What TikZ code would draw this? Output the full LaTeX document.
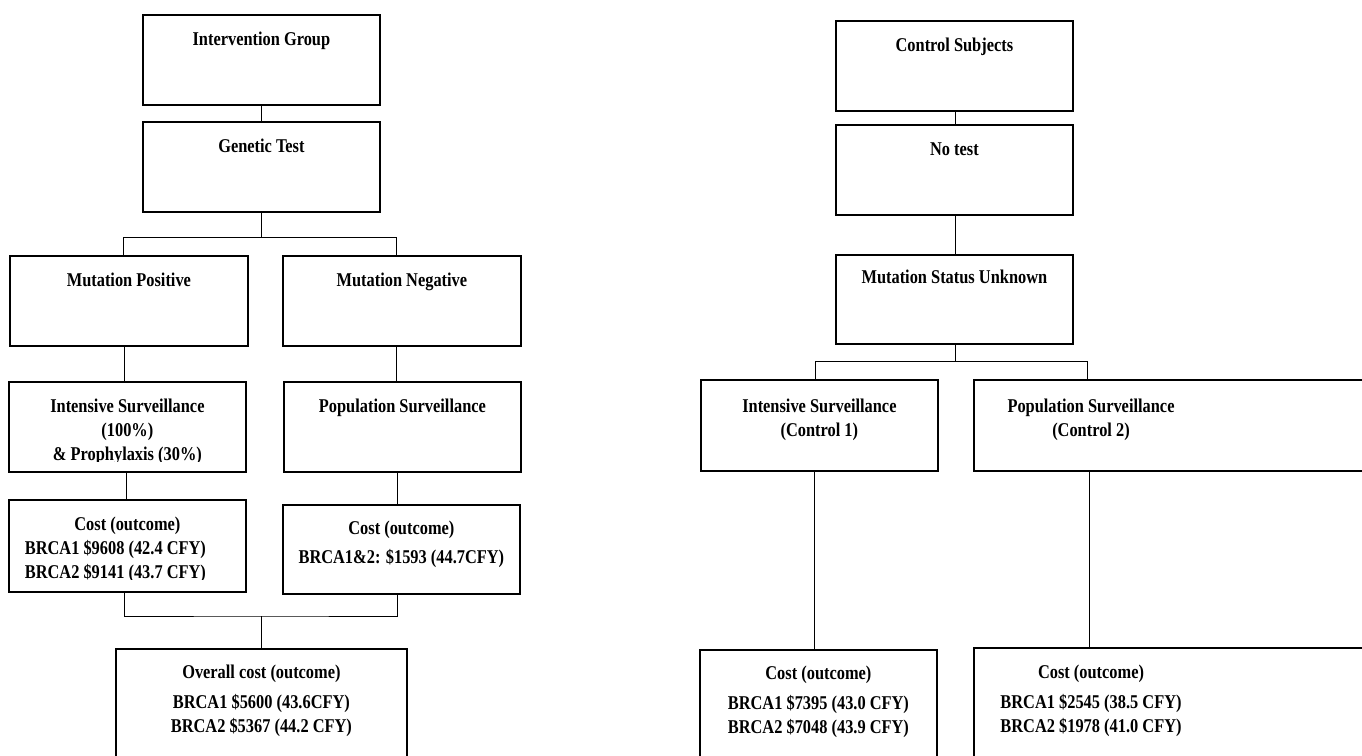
\documentclass[tikz,border=0pt]{standalone}
\usepackage{fontspec}
\usepackage{tikz}
\newfontfamily\boxfont{Liberation Serif}[FakeStretch=0.84]

\tikzset{
  box/.style={draw, line width=1.8pt, minimum width=237pt, minimum height=90pt, inner sep=0pt, anchor=north west},
  lbl/.style={font=\boxfont\fontsize{19.5}{24}\selectfont\bfseries, align=center, anchor=base, inner sep=0pt},
  link/.style={line width=1pt},
}

\begin{document}
\begin{tikzpicture}[x=1pt, y=-1pt]
  \useasboundingbox (0,0) rectangle (1362,755);
  % intervention arm
  \node[box] (ig) at (142,14) {};
  \node[box] (gt) at (142,121) {};
  \node[box, minimum width=238pt] (mpos) at (9,255) {};
  \node[box, minimum width=238pt] (mneg) at (282,255) {};
  \node[box] (isv) at (8,381) {};
  \node[box] (psv) at (283,381) {};
  \node[box, minimum height=92pt] (cpos) at (8,499) {};
  \node[box, minimum height=89pt] (cneg) at (282,504) {};
  \node[box, minimum width=291pt, minimum height=130pt] (ovr) at (115,648) {};
  \node[lbl] (igt) at ([yshift=-31pt]ig.north) {Intervention Group};
  \node[lbl] (gtt) at ([yshift=-31pt]gt.north) {Genetic Test};
  \node[lbl] (mpost) at ([yshift=-31pt]mpos.north) {Mutation Positive};
  \node[lbl] (mnegt) at ([yshift=-31pt]mneg.north) {Mutation Negative};
  \begin{scope}
    \clip (0,0) rectangle (1362,461);
    \node[lbl] (isvt) at ([yshift=-79pt]isv.north) {Intensive Surveillance\\(100\%)\\\& Prophylaxis (30\%)};
  \end{scope}
  \node[lbl] (psvt) at ([yshift=-31pt]psv.north) {Population Surveillance};
  \begin{scope}
    \clip (0,0) rectangle (1362,579);
    \node[lbl] (cpost) at ([yshift=-79pt]cpos.north) {Cost (outcome)\\BRCA1 \$9608 (42.4 CFY)\rule{24pt}{0pt}\\BRCA2 \$9141 (43.7 CFY)\rule{24pt}{0pt}};
  \end{scope}
  \node[lbl] (cnegt) at ([yshift=-59pt]cneg.north) {Cost (outcome)\\[5pt]BRCA1\&2: \$1593 (44.7CFY)};
  \node[lbl] (ovrt) at ([yshift=-84pt]ovr.north) {Overall cost (outcome)\\[6pt]BRCA1 \$5600 (43.6CFY)\\BRCA2 \$5367 (44.2 CFY)};
  \draw[link] (ig) -- (gt);
  \draw[link] (gt.south) -- ++(0,25) -| ([xshift=-5pt]mpos.north);
  \draw[link] (gt.south) ++(0,25) -| ([xshift=-5pt]mneg.north);
  \draw[link] ([xshift=-3pt]isv.north) -- ([xshift=-3pt]isv.north |- mpos.south);
  \draw[link] ([xshift=-6pt]psv.north) -- ([xshift=-6pt]psv.north |- mneg.south);
  \draw[link] ([xshift=-1pt]isv.south) -- ([xshift=-1pt]isv.south |- cpos.north);
  \draw[link] ([xshift=-5pt]psv.south) -- ([xshift=-5pt]psv.south |- cneg.north);
  \draw[link] ([xshift=-3pt]cpos.south) |- ([yshift=32pt]ovr.north) -| ([xshift=-4pt]cneg.south);
  \draw[link] ([yshift=32pt]ovr.north) -- (ovr.north);
  % control arm
  \node[box] (cs) at (835,20) {};
  \node[box] (nt) at (835,124) {};
  \node[box, minimum height=89pt] (msu) at (835,254) {};
  \node[box, minimum height=91pt] (isc) at (700,379) {};
  \node[box, minimum width=420pt, minimum height=91pt] (psc) at (973,379) {};
  \node[box, minimum height=130pt] (cc1) at (699,649) {};
  \node[box, minimum width=420pt, minimum height=130pt] (cc2) at (973,647) {};
  \node[lbl] (cst) at ([yshift=-31pt]cs.north) {Control Subjects};
  \node[lbl] (ntt) at ([yshift=-31pt]nt.north) {No test};
  \node[lbl] (msut) at ([yshift=-29pt]msu.north) {Mutation Status Unknown};
  \node[lbl] (isct) at ([yshift=-57pt]isc.north) {Intensive Surveillance\\(Control 1)};
  \node[lbl] (psct) at ([xshift=118pt, yshift=-57pt]psc.north west) {Population Surveillance\\(Control 2)};
  \node[lbl] (cc1t) at ([yshift=-84pt]cc1.north) {Cost (outcome)\\[6pt]BRCA1 \$7395 (43.0 CFY)\\BRCA2 \$7048 (43.9 CFY)};
  \node[lbl] (cc2t) at ([xshift=118pt, yshift=-85pt]cc2.north west) {Cost (outcome)\\[6pt]BRCA1 \$2545 (38.5 CFY)\\BRCA2 \$1978 (41.0 CFY)};
  \draw[link] ([xshift=1.5pt]cs.south) -- ([xshift=1.5pt]nt.north);
  \draw[link] ([xshift=1.5pt]nt.south) -- ([xshift=1.5pt]msu.north);
  \draw[link] ([xshift=1.5pt]msu.south) -- ++(0,17) -| ([xshift=-3.5pt]isc.north);
  \draw[link] ([xshift=1.5pt]msu.south) ++(0,17) -| ([xshift=114pt]psc.north west);
  \draw[link] ([xshift=-3.5pt]cc1.north) -- ([xshift=-3.5pt]cc1.north |- isc.south);
  \draw[link] ([xshift=116pt]cc2.north west) -- ([xshift=116pt]psc.south west);
\end{tikzpicture}
\end{document}
